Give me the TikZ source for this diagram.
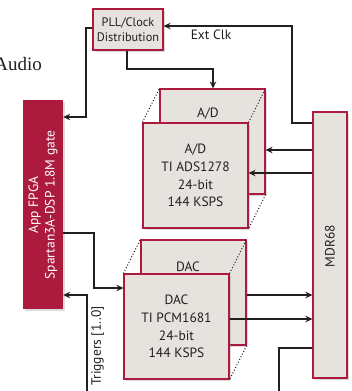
\documentclass[tikz,border=0pt]{standalone}
\usepackage{fontspec}
\setsansfont{PT Sans}
\newfontfamily\titleserif{Liberation Serif}
\usetikzlibrary{arrows.meta,shadows}
\definecolor{crim}{RGB}{172,26,62}
\definecolor{boxfill}{RGB}{230,226,222}
\definecolor{ink}{RGB}{35,31,32}
\begin{document}
\begin{tikzpicture}[x=1pt,y=-1pt,
  shd/.style={drop shadow={shadow xshift=1.6pt, shadow yshift=-1.6pt, opacity=0.28}},
  blk/.style={draw=crim, line width=1.1pt, fill=boxfill, inner sep=0pt,
    minimum width=105pt, minimum height=105pt, shd,
    align=center, text=ink, font=\sffamily\fontsize{13.5}{17.7}\selectfont},
  lbl/.style={inner sep=0pt, text=ink, font=\sffamily\fontsize{13.5}{17.7}\selectfont, align=center},
  arr/.style={draw=ink, line width=1.15pt, -{Stealth[length=7pt,width=6.5pt]}},
  ln/.style={draw=ink, line width=1.15pt},
  dots/.style={draw=ink, line width=1pt, dotted}]
\useasboundingbox (0,0) rectangle (351,391);
\clip (0,0) rectangle (351,391);

% title fragment
\node[anchor=base east, inner sep=0pt, text=ink, font=\titleserif\fontsize{19}{19}\selectfont] (audio) at (42,70) {Audio};

% PLL
\node[draw=crim, line width=1.1pt, fill=boxfill, shd, minimum width=70pt, minimum height=41pt, inner sep=0pt,
  align=center, text=ink, font=\sffamily\fontsize{12.3}{15}\selectfont] (pll) at (128,29.5) {PLL/Clock\\Distribution};

% FPGA
\node[fill=crim, shd, minimum width=40pt, minimum height=209pt, inner sep=0pt] (fpga) at (43,204.5) {};
\node[rotate=90, inner sep=0pt, text=white, align=center, font=\sffamily\fontsize{13.5}{16.5}\selectfont] (fpgalbl) at (43,205) {App FPGA\\Spartan3A-DSP 1.8M gate};

% MDR68
\node[blk, minimum width=34pt, minimum height=266pt] (mdr) at (330,245) {};
\node[lbl, rotate=90] (mdrlbl) at (330,246) {MDR68};

% A/D block
\node[blk] (adback) at (212.5,141.5) {};
\node[lbl] (adbacklbl) at (208,114) {A/D};
\node[blk] (adfront) at (195.5,175.5) {A/D\\TI ADS1278\\24-bit\\144 KSPS};
\draw[dots] (adfront.north west) -- (adback.north west);
\draw[dots] (adfront.north east) -- (adback.north east);
\draw[dots] (adback.south east) -- (adfront.south east);

% DAC block
\node[blk] (dacback) at (193.5,292.5) {};
\node[lbl] (dacbacklbl) at (188,267) {DAC};
\node[blk] (dacfront) at (176.5,326.5) {DAC\\TI PCM1681\\24-bit\\144 KSPS};
\draw[dots] (dacfront.north west) -- (dacback.north west);
\draw[dots] (dacfront.north east) -- (dacback.north east);
\draw[dots] (dacback.south east) -- (dacfront.south east);

% connectors
\draw[arr] (mdr.west |- 0,123) -- (292,123) -- (292,26) -- (pll.east |- 0,26);
\node[lbl] (extclk) at (211,35) {Ext Clk};
\draw[arr] (pll.south -| 127,0) -- (127,69) -- (213,69) -- (adback.north -| 213,0);
\draw[arr] (pll.west |- 0,28) -- (86,28) -- (86,117) -- (fpga.east |- 0,117);
\draw[arr] (mdr.west |- 0,150) -- (adback.east |- 0,150);
\draw[arr] (mdr.west |- 0,173) -- (adfront.east |- 0,173);
\draw[arr] (fpga.east |- 0,233) -- (94,233) -- (94,288) -- (dacfront.west |- 0,288);
\coordinate (trigbot) at (87,396);
\draw[arr] (trigbot) -- (87,295) -- (fpga.east |- 0,295);
\node[lbl, rotate=90] (triglbl) at (97.5,346) {Triggers [1..0]};
\draw[arr] (dacback.east |- 0,295) -- (mdr.west |- 0,295);
\draw[arr] (dacfront.east |- 0,319) -- (mdr.west |- 0,319);
\coordinate (mdrbot) at (279,396);
\draw[ln] (mdr.west |- 0,348) -- (279,348) -- (mdrbot);
\end{tikzpicture}
\end{document}
